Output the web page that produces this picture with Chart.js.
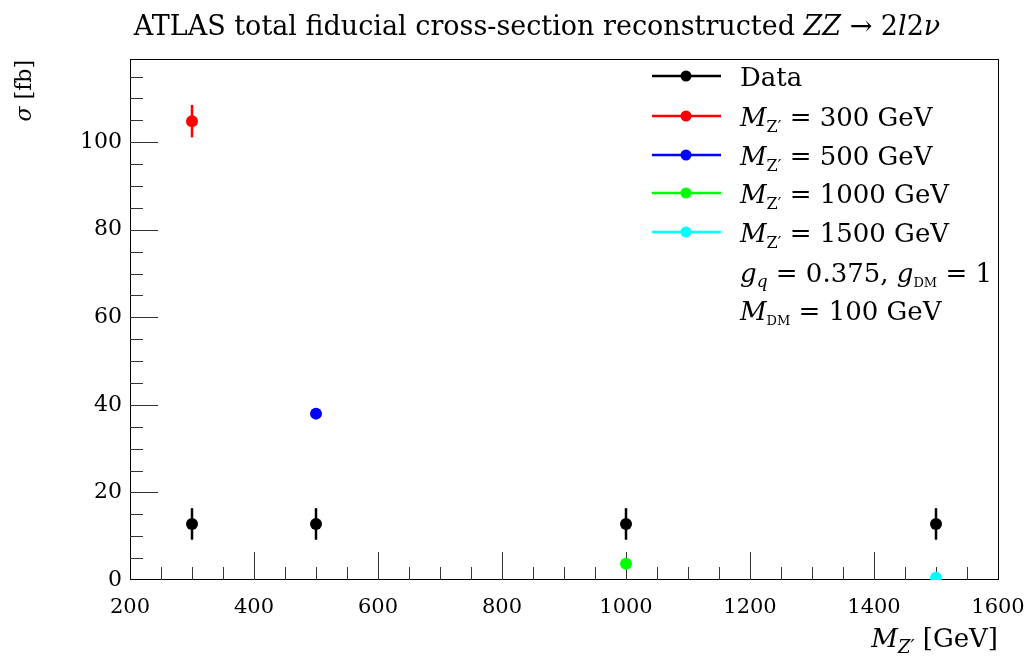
<!DOCTYPE html>
<html>
<head>
<meta charset="utf-8">
<script src="https://cdn.jsdelivr.net/npm/chart.js@4.4.1/dist/chart.umd.min.js"></script>
<style>
html, body { margin: 0; padding: 0; background: #fff; }
</style>
</head>
<body>
<canvas id="xsec" width="1030" height="657"></canvas>
<script>
// Z' masses (GeV) and cross-sections (fb)
const masses = [300, 500, 1000, 1500];
const dataSigma = [12.8, 12.8, 12.8, 12.8];
const dataErr = [3.6, 3.6, 3.6, 3.6];
const signalSigma = [104.8, 38.0, 3.7, 0.5];
const signalErr = [3.7, 0, 0, 0];
const signalColors = ['#ff0000', '#0000ff', '#00ff00', '#00ffff'];
const xTicks = [200, 400, 600, 800, 1000, 1200, 1400, 1600];
const yTicks = [0, 20, 40, 60, 80, 100];

const SERIF = '"DejaVu Serif", "Liberation Serif", serif';

// draws a list of text pieces one after another, returns the width
function rich(ctx, pieces, x, y, size, measureOnly) {
    let cx = x;
    pieces.forEach(p => {
        const s = p.size || size;
        ctx.font = (p.i ? 'italic ' : '') + s + 'px ' + SERIF;
        if (!measureOnly) ctx.fillText(p.t, cx, y + (p.dy || 0));
        cx += ctx.measureText(p.t).width;
    });
    return cx - x;
}

const datasets = [{
    label: 'Data',
    data: masses.map((m, i) => ({x: m, y: dataSigma[i]})),
    errors: dataErr,
    backgroundColor: '#000',
    borderColor: '#000'
}];
masses.forEach((m, i) => {
    datasets.push({
        label: 'M = ' + m + ' GeV',
        data: [{x: m, y: signalSigma[i]}],
        errors: [signalErr[i]],
        backgroundColor: signalColors[i],
        borderColor: signalColors[i]
    });
});

const decorations = {
    id: 'decorations',
    beforeDatasetsDraw(chart) {
        const {ctx, chartArea: a, scales: {x, y}} = chart;
        ctx.save();
        // frame
        ctx.strokeStyle = '#000';
        ctx.lineWidth = 1;
        ctx.strokeRect(Math.round(a.left) + 0.5, Math.round(a.top) + 0.5,
            Math.round(a.right - a.left), Math.round(a.bottom - a.top) - 1);
        // ticks pointing into the frame
        ctx.strokeStyle = '#333';
        ctx.beginPath();
        for (let v = x.min + 50; v < x.max; v += 50) {
            const px = Math.round(x.getPixelForValue(v)) + 0.5;
            const len = v % 200 === 0 ? 28 : 13;
            ctx.moveTo(px, a.bottom);
            ctx.lineTo(px, a.bottom - len);
        }
        for (let v = 5; v <= y.max; v += 5) {
            const py = Math.round(y.getPixelForValue(v)) + 0.5;
            const len = v % 20 === 0 ? 28 : 13;
            ctx.moveTo(a.left, py);
            ctx.lineTo(a.left + len, py);
        }
        ctx.stroke();
        // error bars
        ctx.lineWidth = 2.5;
        chart.data.datasets.forEach(ds => {
            ctx.strokeStyle = ds.borderColor;
            ds.data.forEach((p, i) => {
                const e = ds.errors[i];
                if (!e) return;
                const px = x.getPixelForValue(p.x);
                ctx.beginPath();
                ctx.moveTo(px, y.getPixelForValue(p.y - e));
                ctx.lineTo(px, y.getPixelForValue(p.y + e));
                ctx.stroke();
            });
        });
        ctx.restore();
    },
    afterDraw(chart) {
        const ctx = chart.ctx;
        ctx.save();
        ctx.fillStyle = '#000';
        ctx.textBaseline = 'alphabetic';

        // title
        const title = [
            {t: 'ATLAS total fiducial cross-section reconstructed '},
            {t: 'ZZ', i: true}, {t: ' \u2192 2'}, {t: 'l', i: true}, {t: '2'}, {t: '\u03bd', i: true}
        ];
        const tw = rich(ctx, title, 0, 0, 27, true);
        rich(ctx, title, 537 - tw / 2, 35, 27);

        // y axis title
        const ytitle = [{t: '\u03c3', i: true}, {t: ' [fb]'}];
        ctx.save();
        ctx.translate(31, 60);
        ctx.rotate(-Math.PI / 2);
        const yw = rich(ctx, ytitle, 0, 0, 22, true);
        rich(ctx, ytitle, -yw, 0, 22);
        ctx.restore();

        // x axis title
        const xtitle = [{t: 'M', i: true}, {t: 'Z\u2032', i: true, size: 18, dy: 6}, {t: ' [GeV]'}];
        const xw = rich(ctx, xtitle, 0, 0, 26, true);
        rich(ctx, xtitle, 998 - xw, 647, 26);

        // legend
        const mz = m => [{t: 'M', i: true}, {t: 'Z\u2032', size: 16, dy: 6}, {t: ' = ' + m + ' GeV'}];
        const rows = [[{t: 'Data'}]].concat(masses.map(mz));
        const extra = [
            [{t: 'g', i: true}, {t: 'q', i: true, size: 17, dy: 5}, {t: ' = 0.375, '},
             {t: 'g', i: true}, {t: 'DM', size: 13, dy: 5}, {t: ' = 1'}],
            [{t: 'M', i: true}, {t: 'DM', size: 13, dy: 5}, {t: ' = 100 GeV'}]
        ];
        const rowY = [76, 116, 155, 193, 232, 272, 310];
        rows.forEach((r, k) => {
            const ds = chart.data.datasets[k];
            const cy = rowY[k];
            ctx.strokeStyle = ds.borderColor;
            ctx.lineWidth = 2.5;
            ctx.beginPath();
            ctx.moveTo(652, cy);
            ctx.lineTo(721, cy);
            ctx.stroke();
            ctx.fillStyle = ds.backgroundColor;
            ctx.beginPath();
            ctx.arc(686, cy, 5.5, 0, Math.PI * 2);
            ctx.fill();
            ctx.fillStyle = '#000';
            rich(ctx, r, 740, cy + 10, 26);
        });
        extra.forEach((r, k) => rich(ctx, r, 740, rowY[5 + k] + 10, 26));
        ctx.restore();
    }
};

new Chart(document.getElementById('xsec'), {
    type: 'scatter',
    data: {datasets: datasets},
    options: {
        responsive: false,
        animation: false,
        devicePixelRatio: 1,
        layout: {padding: {top: 59, right: 32, left: 0, bottom: 0}},
        elements: {point: {radius: 6, borderWidth: 0, hoverRadius: 6}},
        plugins: {legend: {display: false}, tooltip: {enabled: false}},
        scales: {
            x: {
                type: 'linear',
                min: 200,
                max: 1600,
                grid: {display: false, drawTicks: false},
                border: {display: false},
                afterBuildTicks: s => { s.ticks = xTicks.map(v => ({value: v})); },
                afterFit: s => { s.height = 77; s.paddingLeft = 0; s.paddingRight = 0; },
                ticks: {
                    color: '#000',
                    padding: 15,
                    maxRotation: 0,
                    callback: v => String(v),
                    font: {family: SERIF, size: 21}
                }
            },
            y: {
                type: 'linear',
                min: 0,
                max: 119,
                grid: {display: false, drawTicks: false},
                border: {display: false},
                afterBuildTicks: s => { s.ticks = yTicks.map(v => ({value: v})); },
                afterFit: s => { s.width = 130; s.paddingTop = 0; s.paddingBottom = 0; },
                ticks: {
                    color: '#000',
                    padding: 8,
                    callback: v => String(v),
                    font: {family: SERIF, size: 22}
                }
            }
        }
    },
    plugins: [decorations]
});
</script>
</body>
</html>
